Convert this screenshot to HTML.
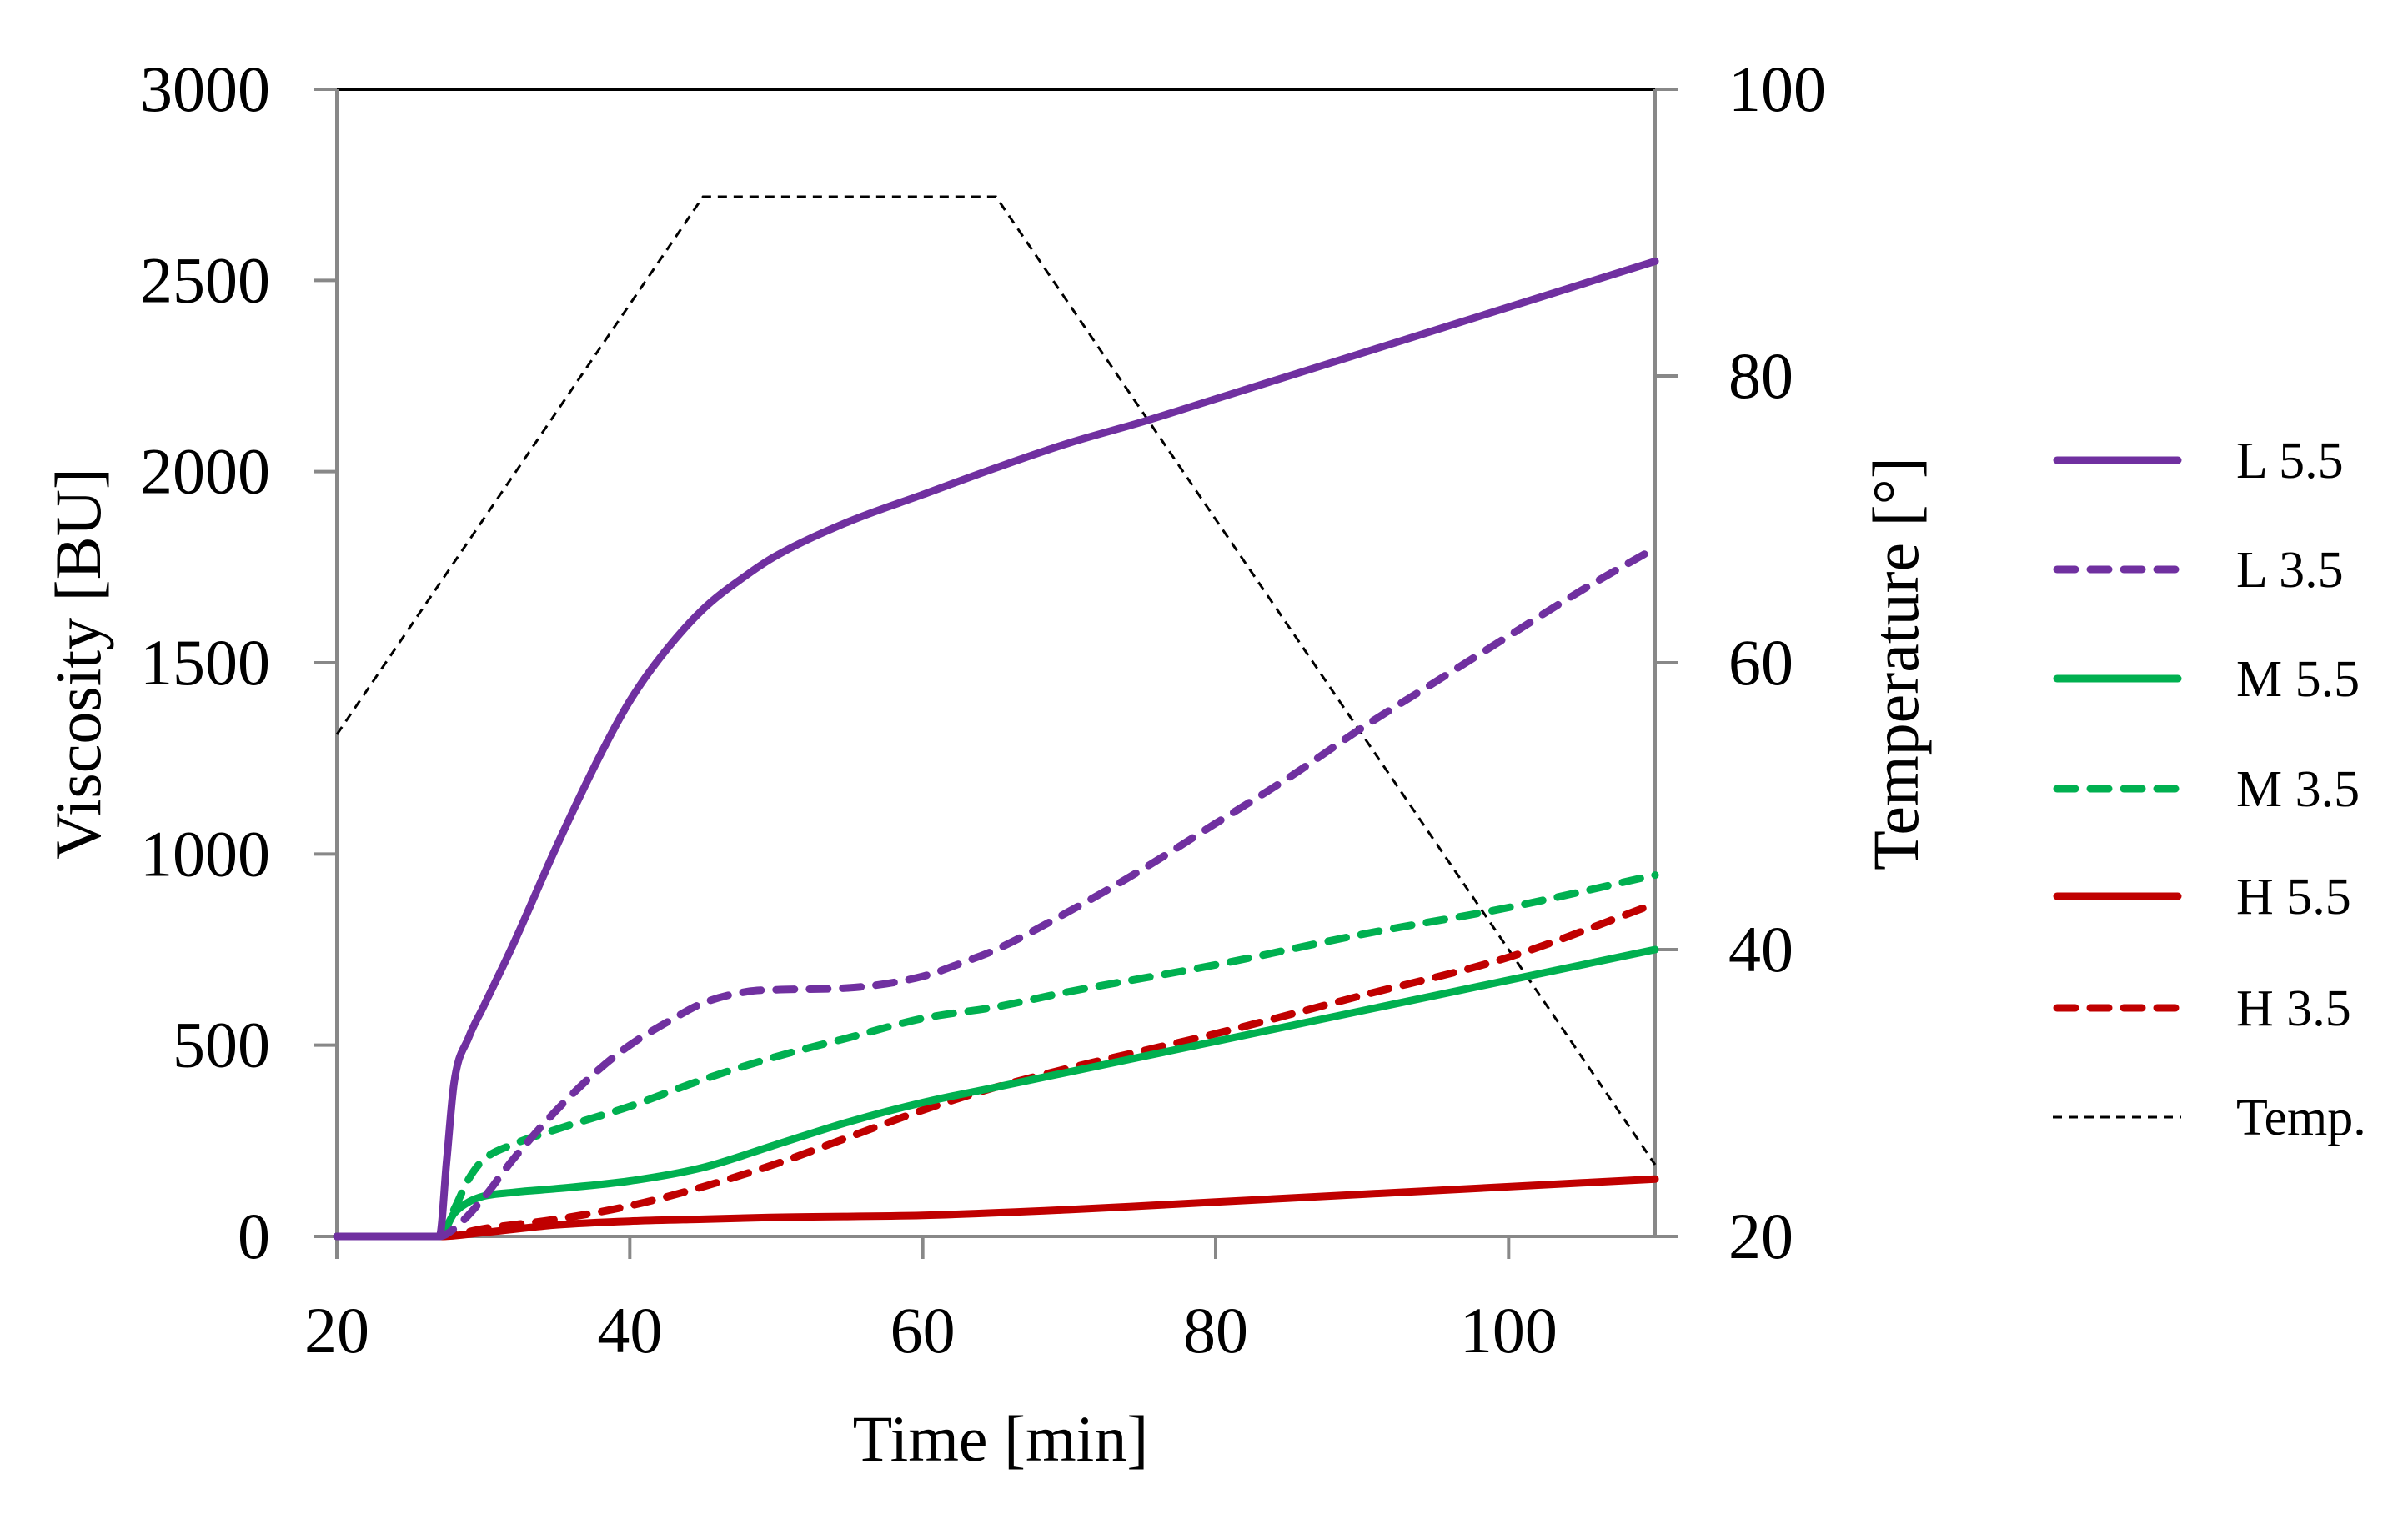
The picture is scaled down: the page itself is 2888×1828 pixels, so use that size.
<!DOCTYPE html>
<html><head><meta charset="utf-8">
<style>
html,body{margin:0;padding:0;background:#fff;}
svg{display:block;font-family:"Liberation Serif","DejaVu Serif",serif;}
</style></head>
<body>
<svg id="chart" width="2888" height="1828" viewBox="0 0 2888 1828" xmlns="http://www.w3.org/2000/svg">
<g id="axes"></g>
<g id="series"></g>
<g id="legend"></g>
</svg>
<script>
const xTicks = [20, 40, 60, 80, 100];
const yTicks = [0, 500, 1000, 1500, 2000, 2500, 3000];
const tTicks = [20, 40, 60, 80, 100];

const L55_t = [20,27,27.5,28,29,30,32,35,38,40,42,45,48,50,55,60,65,70,75,80,90,100,110];
const L55_v = [0,0,200,400,520,600,760,1020,1260,1400,1510,1640,1730,1780,1870,1940,2010,2075,2130,2190,2310,2430,2550];
const L35_t = [20,27,28,30,32,35,38,40,43,45,48,50,55,60,63,65,70,75,80,85,90,95,100,105,110];
const L35_v = [0,0,20,100,200,330,440,500,570,610,640,645,650,680,720,750,850,960,1080,1200,1330,1450,1570,1690,1800];
const M55_t = [20,27,28,29,30,32,35,40,45,50,55,60,65,70,80,90,100,110];
const M55_v = [0,0,60,90,105,115,125,145,180,240,300,350,390,430,510,590,670,750];
const M35_t = [20,27,28,29,30,32,35,40,45,50,55,60,65,70,80,90,100,110];
const M35_v = [0,0,70,150,200,240,280,340,410,470,520,570,600,640,710,790,860,945];
const H55_t = [20,27,30,35,40,45,50,60,70,80,90,100,110];
const H55_v = [0,0,10,30,40,45,50,55,70,90,110,130,150];
const H35_t = [20,27,30,35,40,45,50,55,60,65,70,80,90,100,110];
const H35_v = [0,0,20,45,80,130,190,260,330,390,440,530,630,730,870];
const temp_t = [20,45,65,110];
const temp_v = [55,92.5,92.5,25];

const L=404, R=1985, T=107, B=1483;
const X = t => L + (t-20)/90*(R-L);
const Y = v => B - v/3000*(B-T);
const YT = c => B - (c-20)/80*(B-T);
const NS="http://www.w3.org/2000/svg";
function mk(tag, attrs, parent){const e=document.createElementNS(NS,tag);for(const k in attrs)e.setAttribute(k,attrs[k]);parent.appendChild(e);return e;}
const axes=document.getElementById('axes'), series=document.getElementById('series'), legend=document.getElementById('legend');

let e;
e=mk('line',{x1:L,y1:T,x2:R,y2:T,stroke:'#000','stroke-width':4},axes);


e=mk('line',{x1:L,y1:T,x2:L,y2:B+27,stroke:'#888','stroke-width':4},axes);


e=mk('line',{x1:R,y1:T,x2:R,y2:B,stroke:'#888','stroke-width':4},axes);


e=mk('line',{x1:L-27,y1:B,x2:R+27,y2:B,stroke:'#888','stroke-width':4},axes);



yTicks.forEach(v=>{
  if(v>0){e=mk('line',{x1:L-27,y1:Y(v),x2:L,y2:Y(v),stroke:'#888','stroke-width':4},axes);
  
  }
  e=mk('text',{x:324,y:Y(v)+26,'text-anchor':'end','font-size':78,fill:'#000'},axes);
  e.textContent=v;
  
  
});
tTicks.forEach(c=>{
  e=mk('line',{x1:R,y1:YT(c),x2:R+27,y2:YT(c),stroke:'#888','stroke-width':4},axes);
  
  
  e=mk('text',{x:2073,y:YT(c)+26,'text-anchor':'start','font-size':78,fill:'#000'},axes);
  e.textContent=c;
  
  
});
xTicks.forEach(t=>{
  e=mk('line',{x1:X(t),y1:B,x2:X(t),y2:B+27,stroke:'#888','stroke-width':4},axes);
  
  
  e=mk('text',{x:X(t),y:1622,'text-anchor':'middle','font-size':78,fill:'#000'},axes);
  e.textContent=t;
  
  
});
e=mk('text',{x:1200,y:1752,'text-anchor':'middle','font-size':78,fill:'#000'},axes);
e.textContent='Time [min]';


e=mk('text',{x:0,y:0,'text-anchor':'middle','font-size':78,fill:'#000',transform:'translate(120,796) rotate(-90)'},axes);
e.textContent='Viscosity [BU]';


e=mk('text',{x:0,y:0,'text-anchor':'middle','font-size':78,fill:'#000',transform:'translate(2300,796) rotate(-90)'},axes);
e.textContent='Temperature [°]';



// monotone cubic (Fritsch-Carlson) path
function smooth(pts){
  const n=pts.length, d=[], m=new Array(n);
  for(let i=0;i<n-1;i++)d.push((pts[i+1][1]-pts[i][1])/(pts[i+1][0]-pts[i][0]));
  m[0]=d[0]; m[n-1]=d[n-2];
  for(let i=1;i<n-1;i++){ if(d[i-1]*d[i]<=0)m[i]=0; else { m[i]=(d[i-1]+d[i])/2; } }
  for(let i=0;i<n-1;i++){
    if(d[i]===0){m[i]=0;m[i+1]=0;continue;}
    const a=m[i]/d[i], b=m[i+1]/d[i], s=a*a+b*b;
    if(s>9){const t=3/Math.sqrt(s);m[i]=t*a*d[i];m[i+1]=t*b*d[i];}
  }
  let p='M'+pts[0][0].toFixed(1)+','+pts[0][1].toFixed(1);
  for(let i=0;i<n-1;i++){
    const h=(pts[i+1][0]-pts[i][0])/3;
    p+=' C'+(pts[i][0]+h).toFixed(1)+','+(pts[i][1]+m[i]*h).toFixed(1)+' '+(pts[i+1][0]-h).toFixed(1)+','+(pts[i+1][1]-m[i+1]*h).toFixed(1)+' '+pts[i+1][0].toFixed(1)+','+pts[i+1][1].toFixed(1);
  }
  return p;
}
const PURPLE='#7030a0', GREEN='#00b050', RED='#c00000';
const defs=[
  ['L 5.5',L55_t,L55_v,PURPLE,false,'series-l-5-5'],
  ['L 3.5',L35_t,L35_v,PURPLE,true,'series-l-3-5'],
  ['M 5.5',M55_t,M55_v,GREEN,false,'series-m-5-5'],
  ['M 3.5',M35_t,M35_v,GREEN,true,'series-m-3-5'],
  ['H 5.5',H55_t,H55_v,RED,false,'series-h-5-5'],
  ['H 3.5',H35_t,H35_v,RED,true,'series-h-3-5']
];
const tp=temp_t.map((t,i)=>[X(t),YT(temp_v[i])]);
e=mk('polyline',{points:tp.map(p=>p.join(',')).join(' '),fill:'none',stroke:'#000','stroke-width':3,'stroke-dasharray':'11 8'},series);


defs.slice().reverse().forEach(d=>{
  const pts=d[1].map((t,i)=>[X(t),Y(d[2][i])]);
  const a={d:smooth(pts),fill:'none',stroke:d[3],'stroke-width':9,'stroke-linecap':'round','stroke-linejoin':'round'};
  if(d[4])a['stroke-dasharray']='22 18';
  e=mk('path',a,series);
  
  
});

const rowsY=[552,683,814,946,1075,1209,1340];
defs.concat([['Temp.',null,null,'#000',true,'temp']]).forEach((d,i)=>{
  const y=rowsY[i];
  const g=mk('g',{},legend);
  
  
  const isT=d[0]==='Temp.';
  const a={x1:isT?2462:2467,y1:y,x2:isT?2616:2612,y2:y,stroke:d[3],'stroke-width':isT?3:9,'stroke-linecap':isT?'butt':'round'};
  if(isT)a['stroke-dasharray']='11 8';
  else if(d[4])a['stroke-dasharray']='22 18';
  e=mk('line',a,g);
  
  
  e=mk('text',{x:2682,y:y+21,'font-size':62,fill:'#000'},g);
  e.textContent=d[0];
  
  
});
</script>
</body></html>
